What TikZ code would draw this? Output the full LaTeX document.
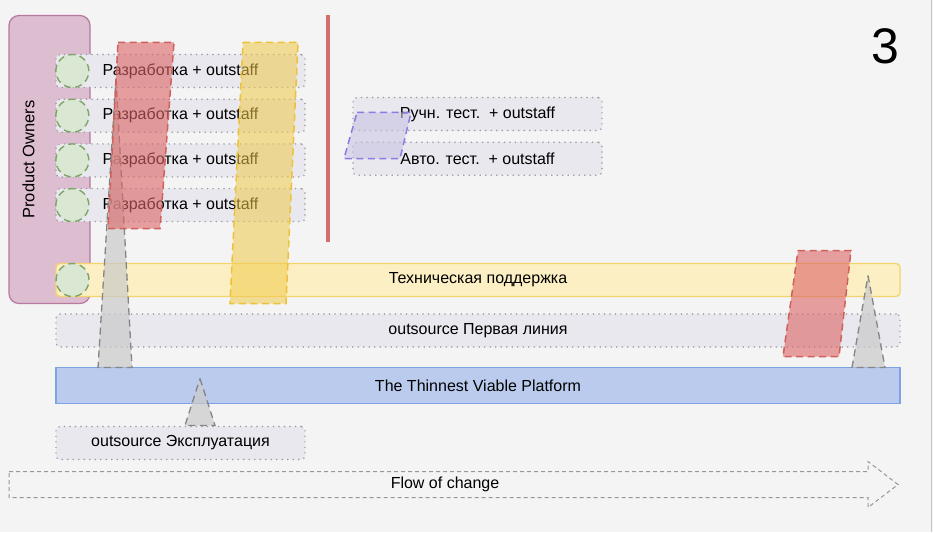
\documentclass[tikz,border=0pt]{standalone}
\usepackage{fontspec}
\setmainfont{Liberation Sans}
\usetikzlibrary{positioning,calc}

\definecolor{paper}{HTML}{F4F4F4}
\definecolor{lanefill}{HTML}{E8E8EE}
\definecolor{laneline}{HTML}{9C9CA4}
\definecolor{pofill}{HTML}{DDBDD0}
\definecolor{poline}{HTML}{B7799F}
\definecolor{ownfill}{HTML}{D9E7D3}
\definecolor{ownline}{HTML}{7FA46A}
\definecolor{supfill}{HTML}{FCEFC3}
\definecolor{supline}{HTML}{F3D46C}
\definecolor{platfill}{HTML}{BACBEE}
\definecolor{platline}{HTML}{7EA3E2}
\definecolor{redband}{HTML}{DC6464}
\definecolor{redline}{HTML}{D0605C}
\definecolor{yelband}{HTML}{F0C94A}
\definecolor{yelline}{HTML}{EDC23A}
\definecolor{graytri}{HTML}{CACACA}
\definecolor{grayline}{HTML}{858585}
\definecolor{purband}{HTML}{C9C4E4}
\definecolor{purline}{HTML}{8D7BE3}
\definecolor{wall}{HTML}{D46E6B}

\tikzset{
  dots/.style={dash pattern=on 0pt off 5.5pt, line cap=round, line width=1.7pt},
  dashes/.style={dash pattern=on 7pt off 4.5pt, line width=1.5pt},
  lane/.style={
    rectangle, rounded corners=4pt, draw=laneline, fill=lanefill,
    dots, minimum height=33pt, inner sep=0pt,
    font=\fontsize{16}{18}\selectfont, align=center
  },
  devlane/.style={lane, minimum width=249pt},
  support/.style={
    rectangle, rounded corners=4pt, draw=supline, fill=supfill,
    line width=1.3pt, minimum width=844pt, minimum height=33pt,
    font=\fontsize{16}{18}\selectfont
  },
  platform/.style={
    rectangle, draw=platline, fill=platfill, line width=1.5pt,
    minimum width=844pt, minimum height=36pt,
    font=\fontsize{16}{18}\selectfont
  },
  owners/.style={
    rectangle, rounded corners=10pt, draw=poline, fill=pofill,
    line width=1.2pt, minimum width=81pt, minimum height=288pt
  },
  owner/.style={
    circle, draw=ownline, fill=ownfill, dashes, line width=1.4pt,
    minimum size=33pt, inner sep=0pt
  },
  band/.style={dashes, fill opacity=0.6},
  spike/.style={dashes, line width=1.3pt, draw=grayline, fill=graytri,
    fill opacity=0.7},
}

\begin{document}
\begin{tikzpicture}[x=1pt, y=-1pt, node distance=10pt]

  \fill[paper] (0,0) rectangle (933,531);
  \draw[gray!45, line width=1pt] (931,0) -- (931,531);

  % Product owners
  \node[owners] (po) at (49.5,159) {};
  \node[rotate=90, font=\fontsize{16.5}{18}\selectfont] (potext)
        at ($(po.west)+(20,0)$) {Product Owners};

  % Development lanes
  \node[devlane] (dev1) at (180.5,70.5) {Разработка + outstaff};
  \node[devlane, below=of dev1] (dev2) {Разработка + outstaff};
  \node[devlane, below=of dev2] (dev3) {Разработка + outstaff};
  \node[devlane, below=of dev3] (dev4) {Разработка + outstaff};

  % Testing lanes
  \node[devlane] (manual) at (477.5,113.5) {Ручн. тест.\ \ + outstaff};
  \node[devlane, below=of manual] (auto) {Авто. тест.\ \ + outstaff};

  % Support and platform
  \node[support] (tech) at (478,279.5) {Техническая поддержка};
  \node[lane, minimum width=844pt, below=16pt of tech] (first)
        {outsource Первая линия};
  \node[platform] (tvp) at (478,385) {The Thinnest Viable Platform};
  \node[devlane] (ops) at (180.5,442.5) {outsource Эксплуатация};

  % Flow of change
  \draw[dash pattern=on 4pt off 3pt, draw=grayline!85, line width=1pt]
        (9,471) -- (868,471) -- (868,461) -- (898,484)
        -- (868,507) -- (868,497) -- (9,497) -- cycle;
  \node[font=\fontsize{16}{18}\selectfont] (flow) at (445,484) {Flow of change};

  % Owners on lanes
  \foreach \lane in {dev1,dev2,dev3,dev4,tech}
    \node[owner, anchor=west] (own-\lane) at (\lane.west) {};

  % Spikes
  \filldraw[spike] (116,78) -- (132,367) -- (98,367) -- cycle;
  \filldraw[spike] (200,378) -- (215,425) -- (185,425) -- cycle;
  \filldraw[spike] (868,275) -- (885,367) -- (852,367) -- cycle;

  % Test automation band
  \filldraw[band, draw=purline, fill=purband]
        (357,112) -- (411,112) -- (400,158) -- (344,158) -- cycle;

  % Release wall
  \draw[wall, line width=4pt] (328,15) -- (328,241);

  % Bands
  \filldraw[band, draw=redline, fill=redband]
        (118,42) -- (174,42) -- (160,228) -- (108,228) -- cycle;
  \filldraw[band, draw=yelline, fill=yelband, fill opacity=0.55]
        (243,42) -- (298,42) -- (286,303) -- (230,303) -- cycle;
  \filldraw[band, draw=redline, fill=redband]
        (798,250) -- (851,250) -- (839,356) -- (783,356) -- cycle;

  \node[font=\fontsize{50}{52}\selectfont] (num) at (885,46) {3};

\end{tikzpicture}
\end{document}
